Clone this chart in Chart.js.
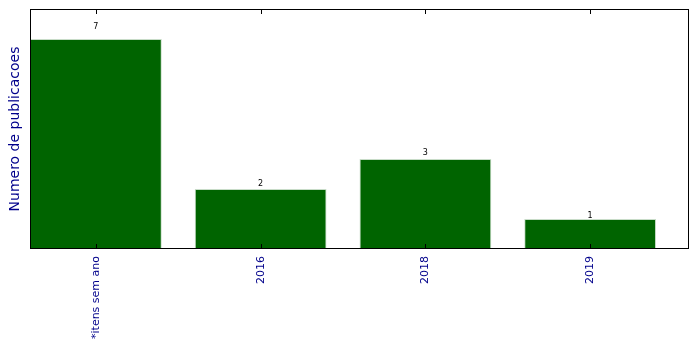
<!DOCTYPE html>
<html>
<head>
<meta charset="utf-8">
<script src="https://cdn.jsdelivr.net/npm/chart.js@4"></script>
<style>
  html, body { margin: 0; padding: 0; background: #fff; }
  #wrap { width: 699px; height: 349px; }
</style>
</head>
<body>
<div id="wrap"><canvas id="chart"></canvas></div>
<script>
const categories = ['*itens sem ano', '2016', '2018', '2019'];
const publicacoes = [7, 2, 3, 1];

const labelColor = '#00008b';

// frame with inward ticks, like the classic matplotlib look
const framePlugin = {
    id: 'frame',
    afterDraw(chart) {
        const { ctx, chartArea: a, scales } = chart;
        ctx.save();
        ctx.strokeStyle = '#000';
        ctx.lineWidth = 1;
        ctx.strokeRect(a.left + 0.5, a.top + 0.5, a.right - a.left - 1, a.bottom - a.top - 1);
        categories.forEach((c, i) => {
            const x = Math.round(scales.x.getPixelForValue(i)) + 0.5;
            ctx.beginPath();
            ctx.moveTo(x, a.bottom);
            ctx.lineTo(x, a.bottom - 5);
            ctx.moveTo(x, a.top);
            ctx.lineTo(x, a.top + 5);
            ctx.stroke();
        });
        ctx.restore();
    }
};

// value above each bar, at 1.05 x its height
const valuePlugin = {
    id: 'values',
    afterDatasetsDraw(chart) {
        const { ctx } = chart;
        const meta = chart.getDatasetMeta(0);
        const y = chart.scales.y;
        ctx.save();
        ctx.fillStyle = '#000';
        ctx.font = '8px "DejaVu Sans"';
        ctx.textAlign = 'center';
        ctx.textBaseline = 'alphabetic';
        meta.data.forEach((bar, i) => {
            ctx.fillText(String(publicacoes[i]), bar.x, y.getPixelForValue(publicacoes[i] * 1.05));
        });
        ctx.restore();
    }
};

new Chart(document.getElementById('chart'), {
    type: 'bar',
    data: {
        datasets: [
            {
                label: 'publicacoes',
                data: publicacoes.map((v, i) => ({ x: i, y: v })),
                backgroundColor: '#006400',
                borderColor: '#c8dcc8',
                borderWidth: 1,
                borderSkipped: 'bottom',
                categoryPercentage: 1,
                barPercentage: 0.8
            }
        ]
    },
    options: {
        responsive: true,
        maintainAspectRatio: false,
        animation: false,
        layout: {
            padding: { top: 9, right: 10, left: 0, bottom: 0 }
        },
        scales: {
            x: {
                type: 'linear',
                offset: false,
                min: -0.4,
                max: 3.6,
                grid: { display: false, drawTicks: false, offset: false },
                border: { display: false },
                afterBuildTicks: (scale) => {
                    scale.ticks = categories.map((c, i) => ({ value: i }));
                },
                afterFit: (scale) => { scale.height = 100; },
                ticks: {
                    color: labelColor,
                    font: { family: '"DejaVu Sans"', size: 11 },
                    minRotation: 90,
                    maxRotation: 90,
                    padding: 7,
                    autoSkip: false,
                    callback: (value) => categories[value]
                }
            },
            y: {
                min: 0,
                max: 8,
                grid: { display: false, drawTicks: false },
                border: { display: false },
                ticks: { display: false },
                afterFit: (scale) => { scale.width = 30; },
                title: {
                    display: true,
                    text: 'Numero de publicacoes',
                    color: labelColor,
                    font: { family: '"DejaVu Sans"', size: 14 },
                    padding: { top: 7, bottom: 0 }
                }
            }
        },
        plugins: {
            legend: { display: false },
            tooltip: { enabled: false }
        }
    },
    plugins: [framePlugin, valuePlugin]
});
</script>
</body>
</html>
